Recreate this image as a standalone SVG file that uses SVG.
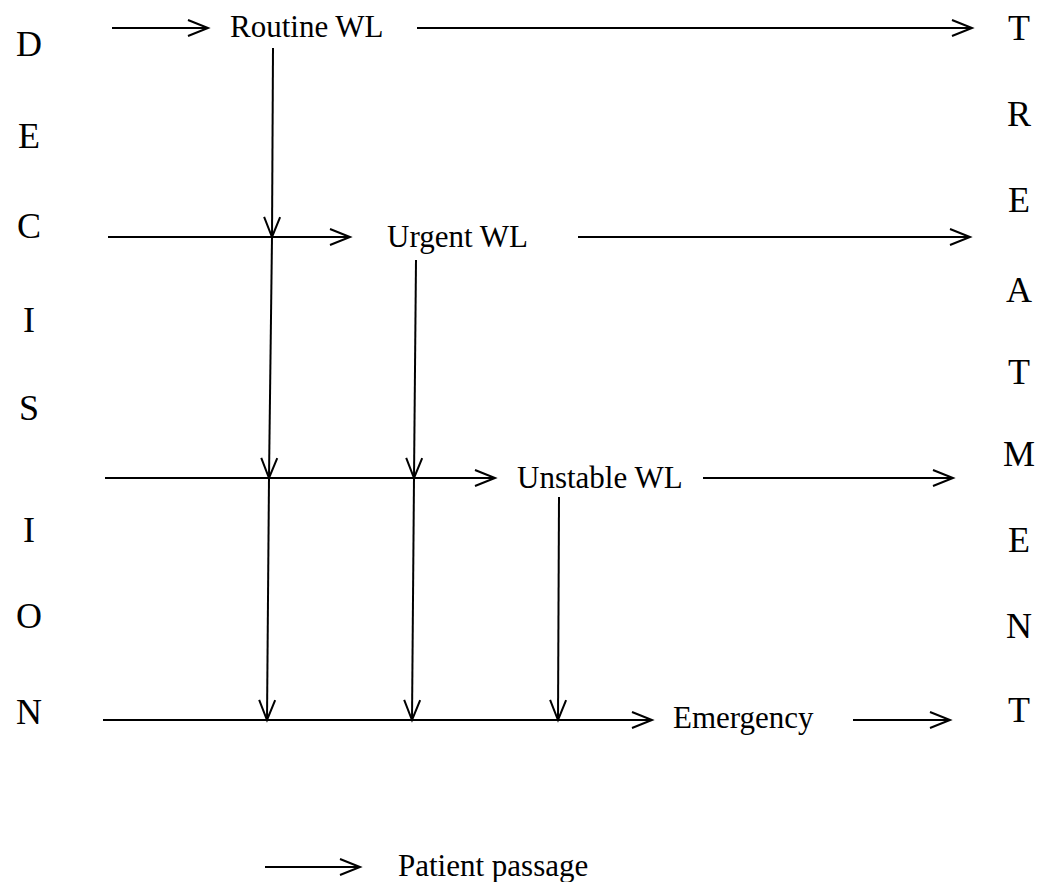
<svg xmlns="http://www.w3.org/2000/svg" width="1041" height="882" viewBox="0 0 1041 882">
  <style>
    .lbl { font-family: "Liberation Serif", "Times New Roman", serif; font-size: 31px; fill: #000; }
    .ltr { font-family: "Liberation Serif", "Times New Roman", serif; font-size: 36px; fill: #000; text-anchor: middle; }
    .flow { stroke: #000; stroke-width: 2; fill: none; marker-end: url(#open); }
  </style>
  <defs>
    <marker id="open" markerUnits="userSpaceOnUse" markerWidth="26" markerHeight="22" viewBox="-22 -11 26 22" refX="0" refY="0" orient="auto" overflow="visible">
      <path d="M-20,-8 L0,0 L-20,8" fill="none" stroke="#000" stroke-width="2"/>
    </marker>
  </defs>
  <rect width="1041" height="882" fill="#fff"/>

  <!-- vertical word on the left -->
  <g id="decision">
    <text class="ltr" x="29" y="56">D</text>
    <text class="ltr" x="29" y="148">E</text>
    <text class="ltr" x="29" y="238">C</text>
    <text class="ltr" x="29" y="332">I</text>
    <text class="ltr" x="29" y="420">S</text>
    <text class="ltr" x="29" y="542">I</text>
    <text class="ltr" x="29" y="628">O</text>
    <text class="ltr" x="29" y="724">N</text>
  </g>

  <!-- vertical word on the right -->
  <g id="treatment">
    <text class="ltr" x="1019" y="40">T</text>
    <text class="ltr" x="1019" y="126">R</text>
    <text class="ltr" x="1019" y="212">E</text>
    <text class="ltr" x="1019" y="302">A</text>
    <text class="ltr" x="1019" y="384">T</text>
    <text class="ltr" x="1019" y="466">M</text>
    <text class="ltr" x="1019" y="552">E</text>
    <text class="ltr" x="1019" y="638">N</text>
    <text class="ltr" x="1019" y="722">T</text>
  </g>

  <!-- waiting lists -->
  <g id="routine"><text class="lbl" x="230" y="37">Routine WL</text></g>
  <g id="urgent"><text class="lbl" x="387" y="247">Urgent WL</text></g>
  <g id="unstable"><text class="lbl" x="517" y="488">Unstable WL</text></g>
  <g id="emergency"><text class="lbl" x="673" y="728">Emergency</text></g>

  <!-- legend -->
  <g id="legend">
    <line class="flow" x1="265" y1="867" x2="360" y2="867"/>
    <text class="lbl" x="398" y="876">Patient passage</text>
  </g>

  <!-- patient flows -->
  <g id="connectors">
    <!-- entry arrows from decision -->
    <line class="flow" x1="112" y1="28" x2="208" y2="28"/>
    <line class="flow" x1="108" y1="237" x2="350" y2="237"/>
    <line class="flow" x1="105" y1="478" x2="495" y2="478"/>
    <line class="flow" x1="103" y1="720" x2="652" y2="720"/>
    <!-- exits to treatment -->
    <line class="flow" x1="417" y1="28" x2="972" y2="28"/>
    <line class="flow" x1="578" y1="237" x2="970" y2="237"/>
    <line class="flow" x1="703" y1="478" x2="953" y2="478"/>
    <line class="flow" x1="853" y1="720" x2="950" y2="720"/>
    <!-- escalation from routine -->
    <line class="flow" x1="273" y1="48" x2="272" y2="237"/>
    <line class="flow" x1="272" y1="237" x2="269" y2="478"/>
    <line class="flow" x1="269" y1="478" x2="267" y2="720"/>
    <!-- escalation from urgent -->
    <line class="flow" x1="416" y1="260" x2="414" y2="478"/>
    <line class="flow" x1="414" y1="478" x2="412" y2="720"/>
    <!-- escalation from unstable -->
    <line class="flow" x1="559" y1="497" x2="558" y2="720"/>
  </g>
</svg>
